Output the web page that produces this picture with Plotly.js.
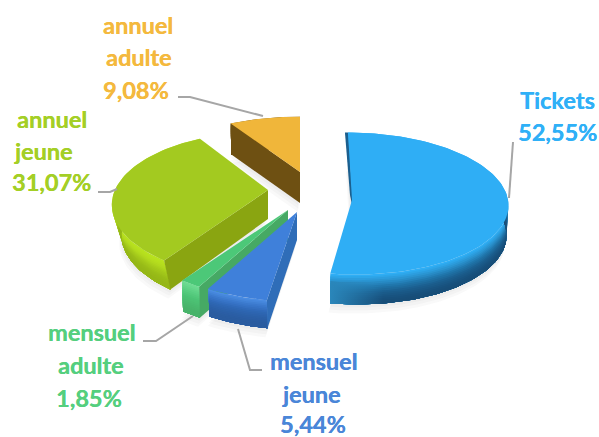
<!DOCTYPE html>
<html><head><meta charset="utf-8">
<script src="https://cdn.plot.ly/plotly-3.0.1.min.js"></script>
<style>html,body{margin:0;padding:0;background:#fff}#c{width:599px;height:437px}</style>
</head><body><div id="c"></div>
<script>
// ---- data ----
const categories = ['Tickets', 'mensuel jeune', 'mensuel adulte', 'annuel jeune', 'annuel adulte'];
const shares = [52.55, 5.44, 1.85, 31.07, 9.08];
const labelColors = ['#2FB0F7', '#4A86D8', '#55CF7E', '#A4CF26', '#F4B93E'];

// ---- 3D look of each slice (pixel-based geometry of the tilted, exploded disc) ----
const looks = [
 {ax:352, ay:200, rx:156, ry:71, k:.05, shear:.06, q:.012, h:30, cut:null,
  top:'#2FAEF5', cutCol:'#1B5F8E', layers:['#2FAEF5','#2A93D0','#1F73A8','#1A5C8C','#17507C','#174B75'], left:'#2A86BA'},
 {ax:297, ay:212, rx:156, ry:74, k:.21, shear:0, q:.02, h:28, cut:'start',
  top:'#3F80DA', cutCol:'#2F6DB8', layers:['#4A8CE2','#3A78CC','#2F68B6','#2B60A8','#2A5CA0','#2A5CA0'], left:'#2F6CBC'},
 {ax:288, ay:210, rx:156, ry:74, k:.21, shear:0, q:.01, h:31, cut:'start',
  top:'#4CC878', cutCol:'#46A964', layers:['#6EDB92','#5CD084','#4DC476','#4ABB70','#48B36A','#48B36A'], left:'#55C87C'},
 {ax:268, ay:190, rx:153, ry:74, k:.21, shear:0, q:.06, h:29, cut:'start',
  top:'#A3CA20', cutCol:'#8AA511', layers:['#B9E31F','#B4DC1E','#A6CC1C','#9BBE18','#95B717','#95B717'], left:'#A8D01C'},
 {ax:300, ay:172, rx:156, ry:70, k:.21, shear:0, q:.01, h:31, cut:'start',
  top:'#F0B63A', cutCol:'#6E5012', layers:['#6E5012','#6E5012'], left:'#6E5012'}
];
const drawOrder = [4, 3, 0, 2, 1];

// ---- labels and leader lines (pixel layout) ----
const labelBoxes = [
 {lines:[[557,100]], pct:[557,132]},
 {lines:[[313,361],[311,394]], pct:[313,424]},
 {lines:[[91,332],[91,365]], pct:[89,398]},
 {lines:[[52,119],[43,151]], pct:[51,182]},
 {lines:[[138,25],[139,57]], pct:[136,90]}
];
const leaders = [
 'M513,142 L509,198',
 'M238,329 L250,370 L262,370',
 'M143,341 L156,341 L193,316',
 'M98,192 L110,192 L117,189',
 'M178,97 L190,97 L263,116'
];

// ---- geometry from the shares ----
const total = shares.reduce((a, b) => a + b, 0);
let run = 0;
const arcs = shares.map(v => { const a0 = run / total * 2 * Math.PI; run += v; return [a0, run / total * 2 * Math.PI]; });
function P(L, a, t) {
  t = t || 0;
  const u = Math.sin(a), v = -Math.cos(a), s = 1 + L.k * v;
  const y = L.ay + L.ry * v * s;
  const x = L.ax + L.rx * u * s + L.shear * (y - L.ay);
  return [x + t * L.q * (L.ax - x), y + t * L.h];
}
function arcPts(L, a0, a1, t) {
  const n = Math.max(2, Math.ceil((a1 - a0) / 0.03)), out = [];
  for (let i = 0; i <= n; i++) out.push(P(L, a0 + (a1 - a0) * i / n, t));
  return out;
}
function hex(c) { return [1, 3, 5].map(i => parseInt(c.slice(i, i + 2), 16)); }
function mix(cols, f) {
  const p = f * (cols.length - 1), i = Math.min(cols.length - 2, Math.floor(p)), w = p - i;
  const a = hex(cols[i]), b = hex(cols[i + 1]);
  return 'rgb(' + a.map((v, j) => Math.round(v + (b[j] - v) * w)).join(',') + ')';
}
function poly(pts, col, extra) {
  const xs = pts.map(p => p[0]).concat(pts[0][0]), ys = pts.map(p => p[1]).concat(pts[0][1]);
  return Object.assign({x:xs, y:ys, type:'scatter', mode:'lines', fill:'toself', fillcolor:col,
    line:{width:0, color:col}, hoverinfo:'skip', showlegend:false}, extra || {});
}
const traces = [];
// soft shadows
[[5,9],[3,6],[1.5,3]].forEach(o => {
  drawOrder.forEach(i => {
    const L = looks[i], [a0, a1] = arcs[i];
    const apex = [L.ax, L.ay + L.h];
    const pts = [apex].concat(arcPts(L, a0, a1, 1)).map(p => [p[0] - o[0] * .4, p[1] + o[1]]);
    traces.push(poly(pts, 'rgba(60,60,60,0.03)'));
  });
});
const BANDS = 16;
drawOrder.forEach(i => {
  const L = looks[i], [a0, a1] = arcs[i];
  // rim: each band runs from its own height to the bottom, so the next one paints over it without seams
  for (let b = 0; b < BANDS; b++) {
    const t0 = b / BANDS, c = mix(L.layers, t0);
    const up = arcPts(L, a0, a1, t0), lo = arcPts(L, a0, a1, 1).reverse();
    const extra = (i === 0 && b > 3) ? {fillgradient:{type:'horizontal', colorscale:[[0, L.left],[.3, c],[1, c]]}} : {};
    traces.push(poly(up.concat(lo), c, extra));
  }
  // cut face
  if (L.cut) {
    const c0 = P(L, a0, 0), c1 = P(L, a0, 1);
    traces.push(poly([[L.ax, L.ay], c0, c1, [L.ax, L.ay + L.h]], L.cutCol));
  }
  if (i === 0) { // thin dark strip on the straight edge at the back
    const c0 = P(L, a0, 0);
    traces.push(poly([[c0[0] - 3, c0[1]], c0, [L.ax + 1, L.ay], [L.ax, L.ay + 5], [L.ax - 2, L.ay - 5]], '#1B5F8E'));
  }
  // top face
  traces.push(poly([[L.ax, L.ay]].concat(arcPts(L, a0, a1, 0)), L.top));
});

// labels
const annotations = [];
function addText(t, pos, col) {
  annotations.push({x:pos[0], y:pos[1], xref:'x', yref:'y', text:t, showarrow:false, xanchor:'center', yanchor:'middle',
    font:{family:'Lato, Carlito, sans-serif', size:23.5, color:col, weight:700, shadow:'0.3px 0 0 ' + col}});
}
categories.forEach((name, i) => {
  const words = name.split(' ');
  labelBoxes[i].lines.forEach((p, j) => addText(words[j], p, labelColors[i]));
  addText(shares[i].toFixed(2).replace('.', ',') + '%', labelBoxes[i].pct, labelColors[i]);
});

const layout = {
  width:599, height:437, margin:{l:0, r:0, t:0, b:0}, paper_bgcolor:'#fff', plot_bgcolor:'#fff', showlegend:false,
  xaxis:{range:[0,599], visible:false, fixedrange:true},
  yaxis:{range:[437,0], visible:false, fixedrange:true},
  annotations,
  shapes: leaders.map(d => ({type:'path', path:d, xref:'x', yref:'y', line:{color:'#A6A6A6', width:2}}))
};
Plotly.newPlot('c', traces, layout, {displayModeBar:false, staticPlot:true});
</script></body></html>
